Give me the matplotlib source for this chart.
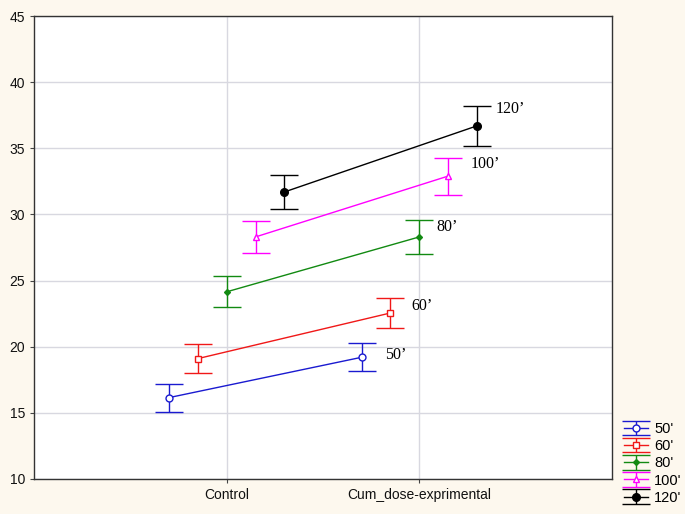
import matplotlib.pyplot as plt

plt.rcParams["font.family"] = ["Liberation Sans", "DejaVu Sans"]

categories = ["Control", "Cum_dose-exprimental"]
series = ["50'", "60'", "80'", "100'", "120'"]
tags = ["50\u2019", "60\u2019", "80\u2019", "100\u2019", "120\u2019"]

means = [
    [16.15, 19.2],
    [19.1, 22.55],
    [24.15, 28.3],
    [28.3, 32.9],
    [31.7, 36.7],
]
errs = [
    [1.05, 1.07],
    [1.1, 1.13],
    [1.18, 1.27],
    [1.22, 1.4],
    [1.26, 1.5],
]

colors = ["#1a1ad0", "#f01818", "#128a12", "#ff00ff", "#000000"]
markers = ["o", "s", "D", "^", "o"]
filled = [False, False, True, False, True]
msizes = [5, 5, 3, 5, 5.5]
shifts = [-0.3, -0.15, 0.0, 0.15, 0.3]
tag_offsets = [(17, 2), (15, 5), (12, 7), (16, 9), (13, 12)]

fig = plt.figure(figsize=(6.85, 5.14), dpi=100, facecolor="#fdf8ee")
ax = fig.add_axes([34 / 685, 1 - 479 / 514, (612 - 34) / 685, (479 - 16) / 514])
ax.set_facecolor("white")

x = [1, 2]
handles = []
for i in range(len(series)):
    xs = [v + shifts[i] for v in x]
    h = ax.errorbar(xs, means[i], yerr=errs[i], color=colors[i], marker=markers[i],
                    ms=msizes[i], mfc=colors[i] if filled[i] else "white",
                    mec=colors[i], lw=1, elinewidth=1, capsize=10, capthick=1,
                    label=series[i], zorder=3)
    handles.append(h)
    ax.annotate(tags[i], (xs[1], means[i][1]), xytext=tag_offsets[i],
                textcoords="offset points", fontsize=11.5, family="Liberation Serif",
                va="center", ha="left")

ax.set_xlim(0, 3)
ax.set_ylim(10, 45)
ax.set_xticks(x)
ax.set_xticklabels(categories)
ax.set_yticks(range(10, 46, 5))
ax.grid(True, color="#d8d8e0", lw=1)
ax.set_axisbelow(True)
ax.tick_params(labelsize=10, length=3, color="#444444", labelcolor="#111111")
for s in ax.spines.values():
    s.set_color("#333333")
    s.set_linewidth(1)

fig.legend(handles=handles, loc="lower right", bbox_to_anchor=(0.995, 0.018),
           frameon=False, fontsize=10.5, handlelength=1.65, labelspacing=0.22,
           handletextpad=0.4, borderaxespad=0, borderpad=0)

plt.savefig("out.png", dpi=100, facecolor=fig.get_facecolor())
